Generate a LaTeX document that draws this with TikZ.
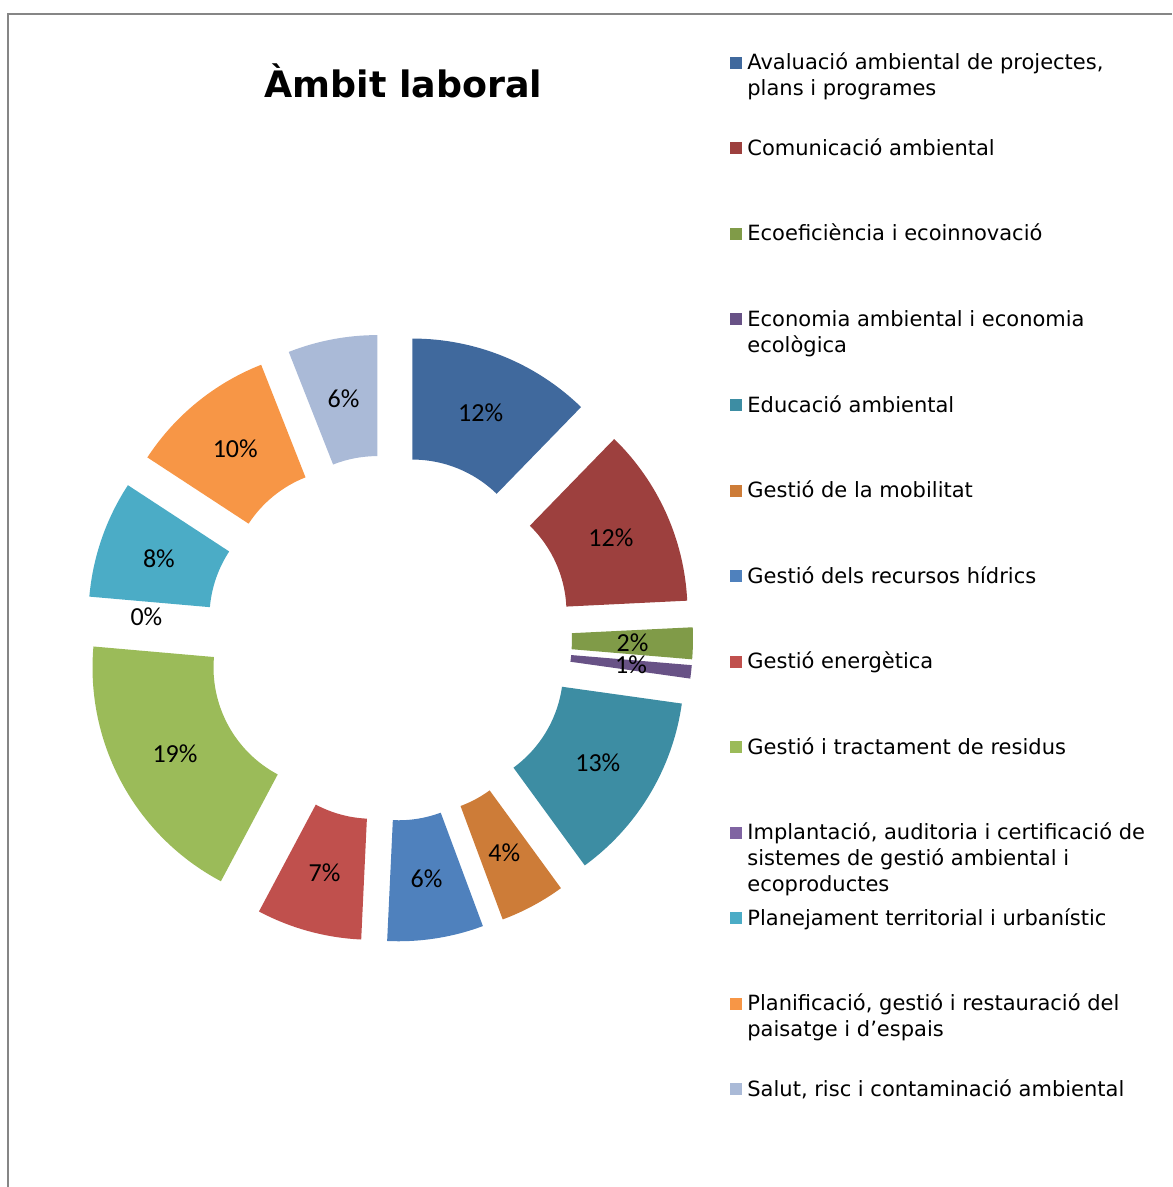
\documentclass[tikz,border=0pt]{standalone}
\usepackage{fontspec}
\setmainfont{DejaVu Sans}
\newfontfamily\pctfont{Carlito}

\begin{document}
\begin{tikzpicture}[x=0.5pt,y=0.5pt,yscale=-1,xscale=1,
  aval/.style={fill={rgb, 255:red, 64; green, 105; blue, 157}},
  comun/.style={fill={rgb, 255:red, 157; green, 64; blue, 62}},
  ecoef/.style={fill={rgb, 255:red, 128; green, 155; blue, 72}},
  econ/.style={fill={rgb, 255:red, 104; green, 82; blue, 134}},
  educ/.style={fill={rgb, 255:red, 61; green, 141; blue, 163}},
  mobil/.style={fill={rgb, 255:red, 205; green, 124; blue, 56}},
  hidric/.style={fill={rgb, 255:red, 79; green, 129; blue, 189}},
  energ/.style={fill={rgb, 255:red, 192; green, 80; blue, 77}},
  resid/.style={fill={rgb, 255:red, 155; green, 187; blue, 89}},
  impl/.style={fill={rgb, 255:red, 128; green, 100; blue, 162}},
  planej/.style={fill={rgb, 255:red, 75; green, 172; blue, 198}},
  planif/.style={fill={rgb, 255:red, 247; green, 150; blue, 70}},
  salut/.style={fill={rgb, 255:red, 170; green, 186; blue, 215}},
  pct/.style={inner sep=0pt, font=\pctfont\fontsize{13}{15}\selectfont},
  legtext/.style={anchor=base west, inner sep=0pt, align=left, font=\fontsize{10.5}{13}\selectfont},
  legbox/.style={minimum size=6pt, inner sep=0pt}]
%uncomment if require: \path (0,1187); %set diagram left start at 0, and has height of 1187
\useasboundingbox (0,0) rectangle (1172,1187);

%Straight Lines [id:frame]
\draw [color={rgb, 255:red, 134; green, 134; blue, 134 }, line width=1pt] (8,1187) -- (8,14) -- (1172,14) ;

% Text Node
\draw (403.5,98) node (title) [anchor=base, inner sep=0pt, font=\bfseries\fontsize{18.2}{22}\selectfont] {Àmbit laboral};

\begin{scope}[shift={(389,638)}]
%Shape: Donut Segment [id:aval]
\fill [aval, shift={(-67.9:62)}] (-90:242) arc [start angle=-90, end angle=-45.8, radius=242] -- (-45.8:121) arc [start angle=-45.8, end angle=-90, radius=121] -- cycle ;
%Shape: Donut Segment [id:comun]
\fill [comun, shift={(-24.3:62)}] (-45.8:242) arc [start angle=-45.8, end angle=-2.8, radius=242] -- (-2.8:121) arc [start angle=-2.8, end angle=-45.8, radius=121] -- cycle ;
%Shape: Donut Segment [id:ecoef]
\fill [ecoef, shift={(1:62)}] (-2.8:242) arc [start angle=-2.8, end angle=4.8, radius=242] -- (4.8:121) arc [start angle=4.8, end angle=-2.8, radius=121] -- cycle ;
%Shape: Donut Segment [id:econ]
\fill [econ, shift={(6.4:62)}] (4.8:242) arc [start angle=4.8, end angle=8, radius=242] -- (8:121) arc [start angle=8, end angle=4.8, radius=121] -- cycle ;
%Shape: Donut Segment [id:educ]
\fill [educ, shift={(30.95:62)}] (8:242) arc [start angle=8, end angle=53.9, radius=242] -- (53.9:121) arc [start angle=53.9, end angle=8, radius=121] -- cycle ;
%Shape: Donut Segment [id:mobil]
\fill [mobil, shift={(61.75:62)}] (53.9:242) arc [start angle=53.9, end angle=69.6, radius=242] -- (69.6:121) arc [start angle=69.6, end angle=53.9, radius=121] -- cycle ;
%Shape: Donut Segment [id:hidric]
\fill [hidric, shift={(81.15:62)}] (69.6:242) arc [start angle=69.6, end angle=92.7, radius=242] -- (92.7:121) arc [start angle=92.7, end angle=69.6, radius=121] -- cycle ;
%Shape: Donut Segment [id:energ]
\fill [energ, shift={(105.35:62)}] (92.7:242) arc [start angle=92.7, end angle=118, radius=242] -- (118:121) arc [start angle=118, end angle=92.7, radius=121] -- cycle ;
%Shape: Donut Segment [id:resid]
\fill [resid, shift={(151.5:62)}] (118:242) arc [start angle=118, end angle=185, radius=242] -- (185:121) arc [start angle=185, end angle=118, radius=121] -- cycle ;
%Shape: Donut Segment [id:planej]
\fill [planej, shift={(199.1:62)}] (185:242) arc [start angle=185, end angle=213.2, radius=242] -- (213.2:121) arc [start angle=213.2, end angle=185, radius=121] -- cycle ;
%Shape: Donut Segment [id:planif]
\fill [planif, shift={(230.85:62)}] (213.2:242) arc [start angle=213.2, end angle=248.5, radius=242] -- (248.5:121) arc [start angle=248.5, end angle=213.2, radius=121] -- cycle ;
%Shape: Donut Segment [id:salut]
\fill [salut, shift={(259.25:62)}] (248.5:242) arc [start angle=248.5, end angle=270, radius=242] -- (270:121) arc [start angle=270, end angle=248.5, radius=121] -- cycle ;

% Text Node
\draw (-67.9:243.5) node (pAval) [pct] {12\%};
% Text Node
\draw (-24.3:243.5) node (pComun) [pct] {12\%};
% Text Node
\draw (1:243.5) node (pEcoef) [pct] {2\%};
% Text Node
\draw (6.4:243.5) node (pEcon) [pct] {1\%};
% Text Node
\draw (30.95:243.5) node (pEduc) [pct] {13\%};
% Text Node
\draw (61.75:243.5) node (pMobil) [pct] {4\%};
% Text Node
\draw (81.15:243.5) node (pHidric) [pct] {6\%};
% Text Node
\draw (105.35:243.5) node (pEnerg) [pct] {7\%};
% Text Node
\draw (151.5:243.5) node (pResid) [pct] {19\%};
% Text Node
\draw (185:243.5) node (pImpl) [pct] {0\%};
% Text Node
\draw (199.1:243.5) node (pPlanej) [pct] {8\%};
% Text Node
\draw (230.85:243.5) node (pPlanif) [pct] {10\%};
% Text Node
\draw (259.25:243.5) node (pSalut) [pct] {6\%};
\end{scope}

%Shape: Square [legend keys]
\draw (736,63) node (kAval) [legbox, aval] {};
\draw (736,148.5) node (kComun) [legbox, comun] {};
\draw (736,234) node (kEcoef) [legbox, ecoef] {};
\draw (736,319.5) node (kEcon) [legbox, econ] {};
\draw (736,405) node (kEduc) [legbox, educ] {};
\draw (736,490.5) node (kMobil) [legbox, mobil] {};
\draw (736,576) node (kHidric) [legbox, hidric] {};
\draw (736,661.5) node (kEnerg) [legbox, energ] {};
\draw (736,747) node (kResid) [legbox, resid] {};
\draw (736,832.5) node (kImpl) [legbox, impl] {};
\draw (736,918) node (kPlanej) [legbox, planej] {};
\draw (736,1003.5) node (kPlanif) [legbox, planif] {};
\draw (736,1089) node (kSalut) [legbox, salut] {};

% Text Node (multi-line nodes sit on their last baseline)
\draw (747,96) node (tAval) [legtext] {Avaluació ambiental de projectes,\\plans i programes};
% Text Node
\draw (747,155.5) node (tComun) [legtext] {Comunicació ambiental};
% Text Node
\draw (747,241) node (tEcoef) [legtext] {Ecoeficiència i ecoinnovació};
% Text Node
\draw (747,352.5) node (tEcon) [legtext] {Economia ambiental i economia\\ecològica};
% Text Node
\draw (747,412) node (tEduc) [legtext] {Educació ambiental};
% Text Node
\draw (747,497.5) node (tMobil) [legtext] {Gestió de la mobilitat};
% Text Node
\draw (747,583) node (tHidric) [legtext] {Gestió dels recursos hídrics};
% Text Node
\draw (747,668.5) node (tEnerg) [legtext] {Gestió energètica};
% Text Node
\draw (747,754) node (tResid) [legtext] {Gestió i tractament de residus};
% Text Node
\draw (747,891.5) node (tImpl) [legtext] {Implantació, auditoria i certificació de\\sistemes de gestió ambiental i\\ecoproductes};
% Text Node
\draw (747,925) node (tPlanej) [legtext] {Planejament territorial i urbanístic};
% Text Node
\draw (747,1036.5) node (tPlanif) [legtext] {Planificació, gestió i restauració del\\paisatge i d’espais};
% Text Node
\draw (747,1096) node (tSalut) [legtext] {Salut, risc i contaminació ambiental};

\end{tikzpicture}
\end{document}
